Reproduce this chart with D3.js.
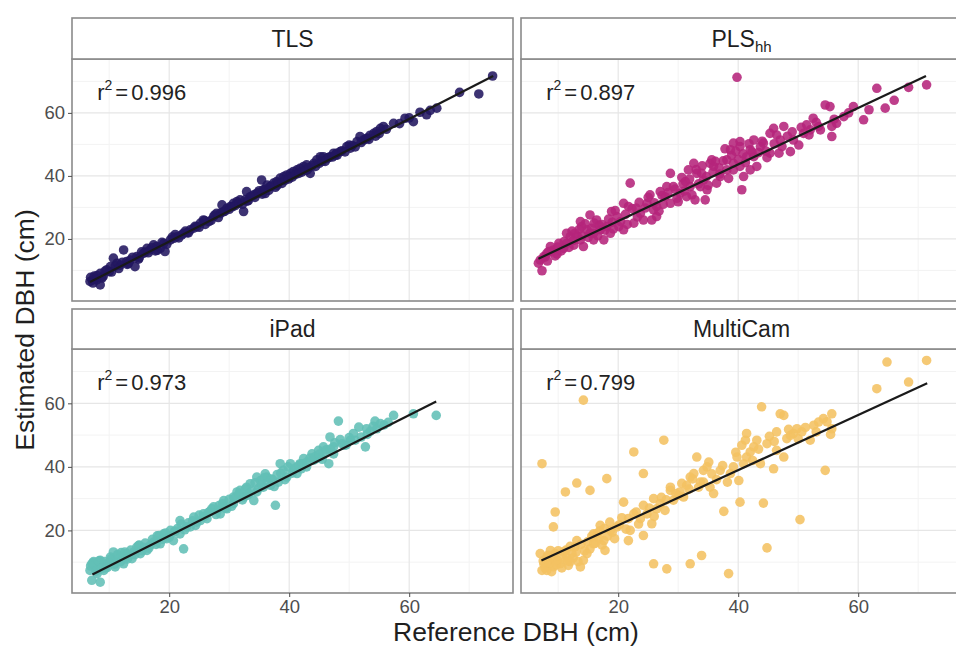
<!DOCTYPE html>
<html>
<head>
<meta charset="utf-8">
<script src="https://cdn.jsdelivr.net/npm/d3@7"></script>
<style>
  html, body { margin: 0; padding: 0; background: #ffffff; }
  svg { display: block; font-family: "Liberation Sans", Arial, sans-serif; }
</style>
</head>
<body>
<svg id="chart" width="956" height="646"></svg>
<script>
// Reference vs. estimated DBH for four sensing methods

const panelNames = ["TLS", "PLS", "iPad", "MultiCam"];
const panelSubscripts = ["", "hh", "", ""];
const rSquared = ["0.996", "0.897", "0.973", "0.799"];
const pointColors = ["#221760", "#b5247b", "#62bfb6", "#f4c262"];

// fitted lines: estimated = intercept + slope * reference, over [fitXmin, fitXmax]
const fitSlope = [0.973, 0.898, 0.951, 0.868];
const fitIntercept = [-0.3, 7.7, -0.75, 4.25];
const fitXmin = [6.8, 6.7, 7.2, 7.2];
const fitXmax = [74.0, 71.3, 64.5, 71.5];

const majorTicks = [20, 40, 60];
const minorTicks = [10, 30, 50, 70];

// [reference DBH, estimated DBH] in cm
const tlsPoints = [
  [73.9, 71.7], [71.6, 66.0], [68.4, 66.5], [64.6, 61.5], [62.9, 59.4], [60.7, 57.2],
  [59.3, 58.3], [57.4, 56.7], [55.2, 55.1], [54.1, 53.5], [53.0, 52.0], [51.8, 52.5],
  [51.3, 50.9], [50.2, 48.8], [48.5, 47.7], [47.4, 47.2], [46.3, 45.6], [45.2, 46.1],
  [44.1, 44.0], [43.5, 40.8], [42.4, 43.0], [41.3, 41.9], [40.2, 40.8], [39.1, 39.8],
  [37.9, 38.2], [36.8, 36.6], [35.4, 38.7], [35.7, 35.6], [34.6, 34.5], [33.5, 33.4],
  [32.9, 35.0], [32.4, 28.7], [31.3, 31.9], [30.2, 30.3], [28.8, 30.8], [28.5, 28.1],
  [27.4, 27.1], [25.7, 26.0], [24.6, 23.9], [23.5, 22.9], [22.4, 21.8], [21.3, 20.7],
  [20.2, 19.7], [19.1, 18.6], [19.3, 16.0], [17.9, 17.6], [16.8, 16.5], [15.7, 15.4],
  [14.6, 14.4], [14.3, 11.2], [13.5, 13.3], [12.4, 16.5], [11.3, 12.3], [10.7, 13.9],
  [9.6, 10.2], [8.5, 9.1], [7.7, 7.5], [6.8, 6.5], [8.5, 5.4], [7.9, 7.0],
  [10.2, 11.2], [11.8, 11.7], [12.9, 12.8], [16.3, 17.0], [17.4, 18.1], [18.5, 17.0],
  [20.8, 20.2], [22.1, 21.3], [24.1, 23.4], [25.2, 25.0], [26.6, 25.5], [27.9, 28.1],
  [29.6, 29.7], [30.7, 31.3], [31.8, 32.4], [34.1, 34.0], [36.3, 37.1], [37.4, 37.7],
  [38.5, 39.3], [39.6, 40.3], [40.7, 41.4], [41.8, 42.4], [42.9, 43.5], [44.6, 45.1],
  [45.7, 46.1], [46.8, 46.1], [47.9, 47.2], [49.6, 49.3], [52.4, 51.4], [54.6, 54.1],
  [55.7, 55.7], [7.2, 6.9], [7.5, 8.2], [9.0, 8.1], [10.0, 9.6], [13.0, 11.9],
  [15.0, 14.0], [16.0, 15.8], [18.0, 16.4], [21.0, 21.4], [23.0, 22.0], [26.0, 24.6],
  [29.0, 28.6], [33.0, 32.0], [35.0, 35.3], [36.0, 34.4], [38.0, 37.0], [40.0, 39.6],
  [43.0, 41.9], [48.0, 46.6], [50.0, 49.8], [53.5, 52.9],
  [6.9, 7.8], [7.3, 6.0], [8.0, 8.4], [8.8, 7.6], [9.3, 9.8], [10.4, 9.5],
  [11.0, 11.4], [11.6, 10.6], [12.2, 12.6], [13.2, 12.2], [13.9, 14.2], [14.9, 13.6],
  [15.4, 15.9], [16.5, 15.6], [17.1, 17.2], [17.7, 16.2], [18.8, 18.9], [19.6, 18.3],
  [20.5, 20.6], [21.6, 20.3], [22.7, 22.5], [23.2, 21.9], [24.3, 24.0], [25.0, 23.7],
  [25.9, 25.8], [27.0, 25.9], [27.6, 27.6], [28.2, 26.8], [29.3, 28.8], [30.0, 29.4],
  [30.5, 30.2], [31.0, 30.6], [31.6, 31.3], [32.2, 31.0], [32.7, 32.5], [33.2, 32.2],
  [33.8, 33.6], [34.3, 33.2], [34.9, 34.6], [35.5, 34.2], [36.0, 35.8], [36.6, 35.4],
  [37.1, 36.8], [37.7, 36.4], [38.2, 37.8], [38.8, 37.6], [39.3, 38.6], [39.9, 39.0],
  [40.5, 39.6], [41.0, 40.4], [41.6, 40.8], [42.1, 41.2], [42.7, 41.8], [43.3, 42.6],
  [43.8, 43.2], [44.4, 43.0], [45.0, 44.0], [45.5, 44.6], [46.0, 44.6], [46.6, 45.8],
  [47.2, 46.0], [47.7, 46.6], [48.8, 48.0], [49.3, 47.6], [50.5, 49.6], [51.0, 49.2],
  [52.0, 50.6], [52.8, 51.8], [53.3, 51.6], [54.4, 52.6], [55.0, 53.4], [56.2, 54.8],
  [58.4, 56.6], [60.0, 58.4], [61.8, 60.2], [63.5, 60.8]
];

const plsPoints = [
  [39.8, 71.3], [63.1, 67.8], [68.4, 68.1], [71.4, 68.9], [64.5, 61.5], [60.9, 57.8],
  [59.2, 62.0], [54.5, 62.5], [55.3, 62.0], [55.6, 52.5], [55.6, 55.7], [53.7, 54.6],
  [52.5, 58.3], [51.4, 56.2], [50.1, 49.8], [47.6, 55.7], [45.9, 55.1], [46.4, 53.0],
  [47.3, 49.3], [48.7, 47.7], [45.3, 47.2], [43.7, 49.3], [42.0, 48.3], [40.3, 50.9],
  [39.2, 50.4], [38.7, 48.3], [41.4, 46.1], [43.1, 43.0], [40.9, 39.8], [40.6, 35.6],
  [39.2, 41.9], [38.1, 45.1], [37.0, 39.8], [35.9, 43.0], [35.3, 44.0], [33.9, 40.8],
  [32.6, 44.0], [31.7, 41.9], [31.2, 38.2], [29.2, 36.6], [28.7, 40.8], [29.8, 32.9],
  [31.4, 33.4], [32.8, 32.4], [34.8, 35.6], [34.5, 32.4], [33.7, 36.6], [28.1, 36.6],
  [27.8, 33.4], [26.4, 30.3], [26.4, 27.1], [25.3, 34.0], [24.8, 31.3], [23.7, 28.1],
  [25.6, 26.0], [22.0, 37.7], [21.7, 30.3], [20.9, 31.3], [22.6, 25.0], [19.8, 27.1],
  [18.9, 28.7], [18.1, 23.9], [17.0, 22.9], [16.4, 26.0], [15.3, 27.6], [15.3, 21.8],
  [13.9, 23.9], [14.2, 17.6], [13.7, 19.7], [12.8, 21.8], [12.0, 20.7], [11.4, 18.6],
  [17.6, 19.7], [18.7, 21.8], [15.9, 19.7], [14.8, 22.9], [10.9, 17.0], [10.1, 18.6],
  [9.2, 16.5], [8.7, 17.6], [8.1, 15.4], [7.6, 14.4], [7.0, 13.3], [6.7, 12.3],
  [7.3, 9.9], [8.4, 16.0], [11.4, 21.8], [13.7, 25.5], [15.9, 21.8], [20.1, 23.9],
  [20.9, 22.9], [24.2, 26.0], [25.9, 29.2], [28.7, 31.3], [30.3, 34.5], [32.0, 36.6],
  [33.1, 40.8], [34.2, 38.7], [35.6, 45.1], [36.4, 37.7], [38.1, 41.9], [39.2, 44.0],
  [40.3, 43.0], [42.0, 41.9], [42.6, 46.1], [44.2, 50.4], [45.3, 53.5], [47.0, 51.4],
  [49.2, 51.4], [52.0, 54.6], [50.9, 53.5], [53.4, 55.7], [57.6, 58.8], [56.4, 56.7],
  [40.3, 49.3], [42.6, 51.4], [9.8, 15.2], [12.5, 19.5], [16.8, 24.4], [19.0, 25.3],
  [23.0, 29.8], [27.0, 35.0], [30.8, 37.5], [36.8, 42.6], [37.8, 48.6], [44.8, 45.8],
  [7.8, 14.2], [8.2, 13.0], [8.9, 15.9], [9.5, 14.6], [9.9, 17.4], [10.5, 16.2],
  [11.0, 19.2], [11.8, 17.3], [12.3, 22.5], [12.6, 18.0], [13.2, 20.8], [13.5, 23.0],
  [14.0, 21.0], [14.5, 24.8], [15.0, 20.5], [15.6, 23.4], [16.0, 25.0], [16.6, 21.0],
  [17.3, 24.6], [17.8, 22.8], [18.4, 26.3], [19.2, 23.2], [19.5, 29.0], [20.4, 25.5],
  [21.2, 27.8], [21.5, 24.6], [22.3, 29.6], [23.2, 27.0], [23.5, 31.6], [24.5, 29.8],
  [25.0, 33.2], [26.0, 31.5], [26.8, 28.8], [27.3, 33.8], [27.5, 31.0], [28.3, 34.7],
  [29.5, 35.8], [30.0, 31.8], [30.6, 39.5], [31.0, 35.2], [31.9, 39.0], [32.3, 34.0],
  [33.0, 42.0], [33.4, 37.5], [34.0, 43.2], [34.7, 39.8], [35.0, 37.0], [35.8, 41.2],
  [36.2, 44.6], [36.9, 40.6], [37.5, 44.8], [38.4, 39.2], [38.9, 46.5], [39.6, 47.8],
  [40.0, 45.2], [40.8, 47.0], [41.2, 44.2], [41.8, 50.2], [42.3, 47.6], [43.4, 47.4],
  [44.0, 51.0], [44.6, 47.9], [46.0, 50.2], [46.8, 47.2], [48.2, 52.6], [49.0, 54.0],
  [50.5, 55.4], [51.8, 53.0], [53.0, 57.0], [56.0, 58.0], [58.4, 60.0], [61.8, 61.0],
  [66.0, 64.0]
];

const ipadPoints = [
  [64.5, 56.2], [60.7, 56.7], [57.4, 56.2], [48.2, 54.4], [54.3, 54.4], [52.9, 52.0],
  [54.6, 52.0], [51.6, 52.5], [50.2, 48.4], [52.7, 46.3], [46.8, 49.4], [47.4, 46.3],
  [46.6, 41.0], [45.2, 43.1], [44.1, 42.1], [42.9, 40.0], [41.8, 41.0], [40.7, 38.9],
  [38.5, 41.0], [39.6, 36.8], [38.2, 35.2], [37.7, 27.9], [36.3, 36.8], [35.2, 35.7],
  [34.6, 32.1], [34.1, 29.4], [32.9, 33.6], [31.8, 32.6], [30.7, 30.5], [30.7, 28.4],
  [29.1, 29.4], [28.5, 25.2], [27.4, 27.4], [25.7, 25.2], [25.2, 23.1], [24.1, 24.2],
  [22.9, 21.1], [21.8, 23.1], [22.4, 14.2], [21.8, 18.9], [20.7, 16.8], [19.1, 18.9],
  [17.9, 16.8], [16.8, 15.3], [15.7, 14.7], [14.6, 14.7], [14.1, 13.2], [12.9, 12.7],
  [11.8, 11.6], [10.7, 10.6], [10.7, 13.2], [9.6, 9.5], [8.5, 10.6], [7.7, 8.5],
  [7.1, 9.5], [6.8, 7.4], [7.1, 4.3], [8.5, 3.7], [8.0, 6.4], [9.1, 7.4],
  [10.2, 11.6], [11.0, 8.5], [12.4, 9.5], [13.8, 11.1], [15.2, 12.7], [16.3, 13.7],
  [17.4, 16.3], [18.5, 15.8], [19.6, 17.4], [20.2, 20.0], [23.5, 21.1], [24.6, 22.6],
  [26.3, 23.7], [28.0, 26.3], [29.6, 26.8], [31.3, 32.1], [32.4, 30.5], [33.5, 34.7],
  [34.6, 36.8], [35.7, 33.6], [36.9, 34.2], [39.0, 38.9], [40.2, 41.0], [41.3, 37.9],
  [42.4, 42.6], [43.8, 44.1], [44.9, 45.2], [45.7, 46.3], [47.4, 44.1], [50.7, 50.5],
  [55.2, 53.6], [52.0, 49.4], [48.8, 47.3], [7.4, 10.2], [8.2, 9.0], [9.4, 8.2],
  [10.0, 10.0], [12.0, 13.0], [13.2, 11.6], [15.0, 15.4], [18.0, 18.3], [21.0, 19.8],
  [26.8, 26.0], [29.0, 27.6], [33.0, 31.0], [36.0, 37.8], [37.2, 36.0], [42.0, 39.4],
  [44.5, 42.6], [46.0, 44.7], [49.5, 46.9], [53.5, 51.2],
  [6.9, 8.8], [7.3, 9.8], [7.8, 7.2], [8.3, 10.4], [8.7, 8.0], [9.2, 10.2],
  [9.7, 8.4], [10.3, 11.0], [10.9, 9.4], [11.4, 12.4], [11.9, 10.2], [12.6, 13.2],
  [13.0, 11.0], [13.6, 13.8], [14.3, 12.4], [14.9, 15.2], [15.5, 13.6], [16.0, 16.0],
  [16.6, 14.4], [17.2, 17.2], [17.8, 15.6], [18.3, 18.4], [18.9, 17.2], [19.4, 19.2],
  [20.0, 17.8], [20.9, 19.6], [21.4, 20.6], [22.0, 22.0], [22.6, 20.2], [23.2, 22.4],
  [23.9, 23.0], [24.4, 21.6], [25.0, 24.8], [25.9, 24.4], [26.5, 25.6], [27.1, 26.8],
  [27.8, 25.0], [28.3, 27.8], [28.9, 28.4], [29.4, 27.0], [30.0, 29.8], [30.4, 27.6],
  [31.0, 30.2], [31.6, 31.4], [32.2, 29.6], [32.7, 33.0], [33.3, 31.6], [33.8, 32.4],
  [34.3, 35.0], [34.9, 33.2], [35.4, 34.4], [35.9, 36.6], [36.5, 35.0], [37.0, 36.2],
  [37.5, 33.8], [38.0, 37.6], [38.6, 38.0], [39.3, 36.0], [39.8, 40.0], [40.5, 38.0],
  [41.0, 39.6], [41.6, 40.4], [42.2, 41.0], [43.0, 41.6], [43.5, 42.8], [44.3, 43.2],
  [45.0, 44.0], [45.5, 42.4], [46.2, 45.4], [46.9, 45.6], [47.6, 47.6], [48.5, 48.6],
  [49.2, 46.8], [50.0, 49.2], [51.0, 48.4], [53.0, 50.2], [54.0, 52.8], [55.8, 53.2],
  [56.5, 54.0]
];

const multicamPoints = [
  [64.8, 73.0], [71.4, 73.5], [68.4, 66.7], [63.1, 64.6], [14.2, 61.0], [43.9, 58.9],
  [47.0, 56.7], [47.6, 56.2], [55.6, 56.7], [54.2, 55.2], [52.6, 53.1], [49.8, 52.0],
  [49.2, 50.5], [55.6, 52.0], [52.0, 48.4], [46.4, 51.0], [48.1, 48.9], [41.4, 50.5],
  [41.2, 48.4], [43.1, 48.4], [42.6, 46.3], [44.8, 47.3], [47.6, 43.1], [45.9, 39.4],
  [43.7, 41.0], [39.8, 43.1], [40.9, 41.0], [39.2, 40.0], [40.1, 35.7], [54.5, 38.9],
  [27.6, 48.4], [22.6, 44.7], [7.3, 41.0], [33.1, 43.1], [35.1, 41.5], [34.2, 38.9],
  [32.0, 36.8], [31.4, 34.2], [33.7, 35.2], [35.3, 33.6], [35.9, 31.6], [30.3, 32.1],
  [28.7, 32.6], [29.2, 29.5], [27.8, 26.3], [26.4, 26.8], [25.9, 30.0], [24.2, 37.9],
  [24.8, 25.2], [23.7, 23.7], [25.6, 22.1], [20.9, 28.9], [18.1, 36.3], [15.3, 32.6],
  [13.1, 34.9], [11.2, 32.1], [9.5, 25.8], [9.2, 21.1], [21.7, 23.7], [22.0, 20.0],
  [21.7, 16.8], [24.2, 18.4], [19.8, 21.1], [17.0, 21.6], [16.4, 18.9], [17.6, 16.8],
  [17.8, 13.7], [15.9, 15.8], [14.8, 12.7], [14.2, 10.6], [13.7, 8.5], [12.8, 14.8],
  [11.4, 11.6], [10.3, 9.5], [9.2, 8.5], [8.1, 7.4], [7.6, 9.5], [8.1, 11.6],
  [8.7, 13.7], [9.5, 12.7], [10.9, 13.2], [12.3, 12.7], [11.7, 9.0], [7.0, 12.7],
  [7.3, 7.4], [25.9, 9.5], [28.1, 7.9], [32.0, 9.5], [33.9, 12.1], [38.4, 6.4],
  [44.8, 14.5], [44.2, 28.6], [37.6, 26.0], [40.3, 28.9], [50.3, 23.4], [46.4, 45.2],
  [48.7, 49.9], [50.6, 51.0], [53.4, 54.1], [42.0, 44.7], [38.7, 37.9], [37.0, 38.9],
  [32.6, 37.9], [30.9, 30.5], [27.0, 28.4], [24.2, 27.9], [22.6, 25.2], [18.7, 20.0],
  [15.9, 18.9], [13.1, 16.8], [34.2, 35.2], [28.7, 33.6], [34.8, 40.0], [41.4, 43.1],
  [8.4, 10.4], [9.9, 10.6], [12.0, 10.2], [16.8, 17.6], [19.0, 19.4], [30.0, 31.0],
  [7.5, 10.4], [7.8, 8.2], [8.3, 12.2], [8.6, 9.6], [8.9, 7.0], [9.3, 11.0],
  [9.7, 9.2], [10.0, 13.6], [10.6, 8.2], [10.8, 11.2], [11.3, 13.8], [11.6, 10.4],
  [12.0, 15.0], [12.5, 11.4], [13.0, 13.2], [13.3, 10.2], [13.8, 15.6], [14.4, 13.6],
  [14.9, 16.4], [15.3, 14.2], [15.6, 18.2], [16.2, 16.0], [16.9, 19.8], [17.3, 15.4],
  [17.7, 20.6], [18.2, 18.2], [18.6, 22.6], [19.4, 17.4], [20.2, 21.8], [20.6, 24.0],
  [21.3, 20.4], [23.0, 25.8], [23.4, 22.0], [25.2, 27.0], [26.0, 24.4], [27.2, 30.4],
  [28.0, 29.6], [29.6, 31.6], [30.6, 34.8], [31.8, 33.0], [32.4, 36.2], [33.4, 33.6],
  [35.6, 37.8], [36.4, 36.0], [37.4, 40.4], [38.2, 35.2], [39.6, 44.6], [40.6, 46.8],
  [42.4, 42.0], [43.4, 45.6], [45.2, 49.6], [46.0, 48.0], [48.4, 51.8], [50.0, 48.8],
  [51.2, 52.4], [53.0, 51.0], [54.8, 54.2], [55.4, 50.2]
];

const panelPoints = [tlsPoints, plsPoints, ipadPoints, multicamPoints];

// ---- layout ----
const svg = d3.select("#chart");
const colLeft = [72, 521];
const panelWidth = 441;
const stripTop = [18, 309];
const bodyTop = [59, 349];
const bodyBottom = [301, 593];

const xDomain = [3.8, 77.3];
const yDomain = [0.3, 77.1];

const gridMinor = "#f3f3f3";
const gridMajor = "#e6e6e6";
const frameColor = "#8a8a8a";
const tickText = "#4d4d4d";

panelNames.forEach((name, i) => {
  const col = i % 2, row = Math.floor(i / 2);
  const x = d3.scaleLinear().domain(xDomain).range([colLeft[col], colLeft[col] + panelWidth]);
  const y = d3.scaleLinear().domain(yDomain).range([bodyBottom[row], bodyTop[row]]);
  const g = svg.append("g");
  const top = bodyTop[row], bottom = bodyBottom[row];
  const left = colLeft[col], right = colLeft[col] + panelWidth;

  g.append("rect").attr("x", left).attr("y", top)
    .attr("width", panelWidth).attr("height", bottom - top).attr("fill", "#ffffff");

  // grid
  g.selectAll(".vminor").data(minorTicks).join("line")
    .attr("x1", d => x(d)).attr("x2", d => x(d)).attr("y1", top).attr("y2", bottom)
    .attr("stroke", gridMinor).attr("stroke-width", 1);
  g.selectAll(".hminor").data(minorTicks).join("line")
    .attr("y1", d => y(d)).attr("y2", d => y(d)).attr("x1", left).attr("x2", right)
    .attr("stroke", gridMinor).attr("stroke-width", 1);
  g.selectAll(".vmajor").data(majorTicks).join("line")
    .attr("x1", d => x(d)).attr("x2", d => x(d)).attr("y1", top).attr("y2", bottom)
    .attr("stroke", gridMajor).attr("stroke-width", 1.2);
  g.selectAll(".hmajor").data(majorTicks).join("line")
    .attr("y1", d => y(d)).attr("y2", d => y(d)).attr("x1", left).attr("x2", right)
    .attr("stroke", gridMajor).attr("stroke-width", 1.2);

  // points
  g.append("g").selectAll("circle").data(panelPoints[i]).join("circle")
    .attr("cx", d => x(d[0])).attr("cy", d => y(d[1])).attr("r", 4.8)
    .attr("fill", pointColors[i]).attr("fill-opacity", 0.88);

  // fitted line
  const fx = [fitXmin[i], fitXmax[i]];
  g.append("line")
    .attr("x1", x(fx[0])).attr("y1", y(fitIntercept[i] + fitSlope[i] * fx[0]))
    .attr("x2", x(fx[1])).attr("y2", y(fitIntercept[i] + fitSlope[i] * fx[1]))
    .attr("stroke", "#1a1a1a").attr("stroke-width", 2.2);

  // r² annotation
  const t = g.append("text").attr("x", x(8)).attr("y", y(66.6)).attr("dy", "0.36em")
    .attr("font-size", 22).attr("fill", "#222222");
  t.append("tspan").text("r");
  t.append("tspan").attr("font-size", 14).attr("dy", "-0.75em").text("2");
  t.append("tspan").attr("dy", "0.48em").attr("dx", 3).text("=");
  t.append("tspan").attr("dx", 3).text(rSquared[i]);

  // panel frame
  g.append("rect").attr("x", left).attr("y", top)
    .attr("width", panelWidth).attr("height", bottom - top)
    .attr("fill", "none").attr("stroke", frameColor).attr("stroke-width", 1.6);

  // strip
  g.append("rect").attr("x", left).attr("y", stripTop[row])
    .attr("width", panelWidth).attr("height", top - stripTop[row])
    .attr("fill", "#ffffff").attr("stroke", frameColor).attr("stroke-width", 1.6);
  const st = g.append("text").attr("x", (left + right) / 2)
    .attr("y", (stripTop[row] + top) / 2).attr("dy", "0.36em")
    .attr("text-anchor", "middle").attr("font-size", 23).attr("fill", "#1f1f1f");
  st.append("tspan").text(name);
  if (panelSubscripts[i]) {
    st.append("tspan").attr("font-size", 15).attr("dy", "0.35em").text(panelSubscripts[i]);
  }

  // axes
  if (col === 0) {
    const ax = g.append("g").attr("transform", `translate(${left},0)`)
      .call(d3.axisLeft(y).tickValues(majorTicks).tickSize(4).tickPadding(3));
    ax.select(".domain").remove();
    ax.selectAll("line").attr("stroke", "#4d4d4d");
    ax.selectAll("text").attr("font-size", 18.5).attr("fill", tickText)
      .attr("font-family", "Liberation Sans, Arial, sans-serif");
  }
  if (row === 1) {
    const ax = g.append("g").attr("transform", `translate(0,${bottom})`)
      .call(d3.axisBottom(x).tickValues(majorTicks).tickSize(4).tickPadding(3));
    ax.select(".domain").remove();
    ax.selectAll("line").attr("stroke", "#4d4d4d");
    ax.selectAll("text").attr("font-size", 18.5).attr("fill", tickText)
      .attr("font-family", "Liberation Sans, Arial, sans-serif");
  }
});

// axis titles
svg.append("text").attr("x", 516).attr("y", 641)
  .attr("text-anchor", "middle").attr("font-size", 26.5).attr("fill", "#1f1f1f")
  .text("Reference DBH (cm)");
svg.append("text").attr("transform", "translate(34,330) rotate(-90)")
  .attr("text-anchor", "middle").attr("font-size", 26.5).attr("fill", "#1f1f1f")
  .text("Estimated DBH (cm)");
</script>
</body>
</html>
